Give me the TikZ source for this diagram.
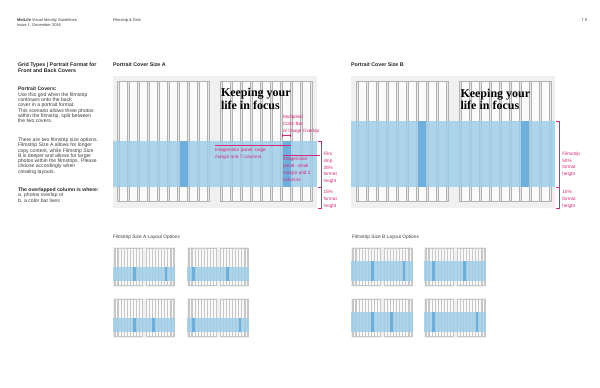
\documentclass[tikz,border=0pt]{standalone}
\usepackage{fontspec}
\setmainfont{Liberation Sans}
\newfontfamily\headserif{Liberation Serif}
\definecolor{bggray}{RGB}{240,240,240}
\definecolor{gutgray}{RGB}{232,232,232}
\definecolor{colwhite}{RGB}{250,250,250}
\definecolor{gridln}{RGB}{178,178,178}
\definecolor{bandblue}{RGB}{160,206,233}
\definecolor{darkblue}{RGB}{95,168,215}
\definecolor{mag}{RGB}{214,40,120}
\definecolor{txtgray}{RGB}{60,60,60}
\newcommand\coverdraw[8]{%
\begin{scope}[shift={(#1,#2)},scale=#3,line width=#8]
 \fill[bggray] (0,0) rectangle (204,132);
 \foreach \gx in {5,108}{
   \filldraw[fill=gutgray,draw=gridln] (\gx,5) rectangle ++(92,120);
   \foreach \k in {0,...,8}{
     \filldraw[fill=colwhite,draw=gridln] ({\gx+2+10*\k},5) rectangle ++(8,120);}
 }
 \fill[bandblue,opacity=0.85] (0,#4) rectangle (204,#5);
 \fill[darkblue,opacity=0.8] ({7+10*(#6-1)},#4) rectangle ({15+10*(#6-1)},#5);
 \fill[darkblue,opacity=0.8] ({110+10*(#7-1)},#4) rectangle ({118+10*(#7-1)},#5);
\end{scope}}
\begin{document}
\begin{tikzpicture}[x=1pt,y=-1pt,
  txt/.style={anchor=base west,inner sep=0pt,outer sep=0pt},
  hdr/.style={txt,font=\fontsize{4}{4}\selectfont,text=txtgray},
  body/.style={txt,font=\fontsize{5.1}{5.1}\selectfont,text=txtgray},
  bodyb/.style={txt,font=\fontsize{5.1}{5.1}\selectfont\bfseries,text=black!85},
  ttl/.style={txt,font=\fontsize{5.3}{5.3}\selectfont\bfseries,text=black!85},
  sub/.style={txt,font=\fontsize{4.8}{4.8}\selectfont,text=txtgray},
  keep/.style={txt,font=\headserif\fontsize{12}{12}\selectfont\bfseries,text=black},
  magt/.style={txt,font=\fontsize{4.7}{4.7}\selectfont,text=mag},
  magl/.style={draw=mag,line width=0.45pt}]
\useasboundingbox (0,0) rectangle (600,388);
\fill[white] (0,0) rectangle (600,388);
% header
\node[hdr] (h1) at (17,21.5) {\textbf{MetLife} Visual Identity Guidelines};
\node[hdr] (h2) at (17,27) {Issue 1: December 2016};
\node[hdr] (h3) at (113,21.5) {Filmstrip \& Grid};
\node[hdr,anchor=base east] (h4) at (587,21.5) {7.9};
% left column
\node[ttl] (t1) at (18,66.7) {Grid Types | Portrait Format for};
\node[ttl] (t2) at (18,72.3) {Front and Back Covers};
\node[bodyb] (pc0) at (18,90.7) {Portrait Covers:};
\foreach \t [count=\i] in {{Use this grid when the filmstrip},{continues onto the back},{cover in a portrait format.},{This scenario allows three photos},{within the filmstrip, split between},{the two covers.}}
  \node[body] (pc\i) at (18,{96.4+5.25*(\i-1)}) {\t};
\foreach \t [count=\i] in {{There are two filmstrip size options.},{Filmstrip Size A allows for longer},{copy content, while Filmstrip Size},{B is deeper and allows for larger},{photos within the filmstrips. Please},{choose accordingly when},{creating layouts.}}
  \node[body] (fs\i) at (18,{141.7+5.25*(\i-1)}) {\t};
\node[bodyb] (ov0) at (18,191.7) {The overlapped column is where:};
\node[body] (ov1) at (18,196.9) {a. photos overlap or};
\node[body] (ov2) at (18,202.2) {b. a color bar lives};
% titles
\node[ttl] (ca) at (113,66.8) {Portrait Cover Size A};
\node[ttl] (cb) at (351,66.8) {Portrait Cover Size B};
% big covers
\coverdraw{112.5}{76}{1}{65}{111}{7}{7}{0.35pt}
\coverdraw{351}{76}{1}{45}{111}{7}{7}{0.35pt}
\node[keep] (ka1) at (221,96.7) {Keeping your};
\node[keep] (ka2) at (221,109) {life in focus};
\node[keep] (kb1) at (460.5,97.5) {Keeping your};
\node[keep] (kb2) at (460.5,109.5) {life in focus};
% annotations A
\foreach \t [count=\i] in {{Multiplied},{Color Bar},{or Image Overlap}}
  \node[magt] (mo\i) at (283,{118.6+6.7*(\i-1)}) {\t};
\coordinate (d1) at (282.5,135); \coordinate (d2) at (290.5,135);
\draw[magl] ([yshift=1.5pt]d1) -- ([yshift=-1.5pt]d1);
\draw[magl] ([yshift=1.5pt]d2) -- ([yshift=-1.5pt]d2);
\draw[magl] (d1) -- (d2);
\coordinate (l1a) at (215,145); \coordinate (l1b) at (290.5,145);
\draw[magl] (l1a) -- (l1b);
\foreach \t [count=\i] in {{Image/color panel: large},{margin and 7 columns}}
  \node[magt] (lg\i) at (215,{151.6+6.7*(\i-1)}) {\t};
\coordinate (l2a) at (283,155); \coordinate (l2b) at (320,155);
\draw[magl] (l2a) -- (l2b);
\foreach \t [count=\i] in {{Image/color},{panel: small},{margin and 2},{columns}}
  \node[magt] (sm\i) at (283,{160.9+6.7*(\i-1)}) {\t};
\coordinate (aT) at (321,141); \coordinate (aM) at (321,187); \coordinate (aB) at (321,208);
\draw[magl] ([xshift=-3pt]aT) -- (aT) -- (aB) -- ([xshift=-3pt]aB);
\draw[magl] ([xshift=-3pt]aM) -- (aM);
\foreach \t [count=\i] in {{Film},{strip},{35\%},{format},{height}}
  \node[magt] (fa\i) at (323.5,{155.6+6.7*(\i-1)}) {\t};
\foreach \t [count=\i] in {{15\%},{format},{height}}
  \node[magt] (fb\i) at (323.5,{193.6+6.7*(\i-1)}) {\t};
% annotations B
\coordinate (bT) at (559,121); \coordinate (bM) at (559,187); \coordinate (bB) at (559,208);
\draw[magl] ([xshift=-3pt]bT) -- (bT) -- (bB) -- ([xshift=-3pt]bB);
\draw[magl] ([xshift=-3pt]bM) -- (bM);
\foreach \t [count=\i] in {{Filmstrip},{50\%},{format},{height}}
  \node[magt] (ga\i) at (562.3,{155.6+6.5*(\i-1)}) {\t};
\foreach \t [count=\i] in {{15\%},{format},{height}}
  \node[magt] (gb\i) at (562.3,{193.9+6.6*(\i-1)}) {\t};
% layout options
\node[sub] (la) at (113,238.3) {Filmstrip Size A Layout Options};
\node[sub] (lb) at (352,238.3) {Filmstrip Size B Layout Options};
\colorlet{gridln}{black!22}
\coverdraw{113}{247}{0.303}{65}{111}{7}{7}{0.12pt}
\coverdraw{187}{247}{0.303}{65}{111}{2}{3}{0.12pt}
\coverdraw{113}{298}{0.303}{65}{111}{7}{3}{0.12pt}
\coverdraw{187}{298}{0.303}{65}{111}{2}{7}{0.12pt}
\coverdraw{351}{247}{0.303}{45}{111}{7}{7}{0.12pt}
\coverdraw{424}{247}{0.303}{45}{111}{3}{3}{0.12pt}
\coverdraw{351}{298}{0.303}{45}{111}{7}{3}{0.12pt}
\coverdraw{424}{298}{0.303}{45}{111}{3}{7}{0.12pt}
\end{tikzpicture}
\end{document}
